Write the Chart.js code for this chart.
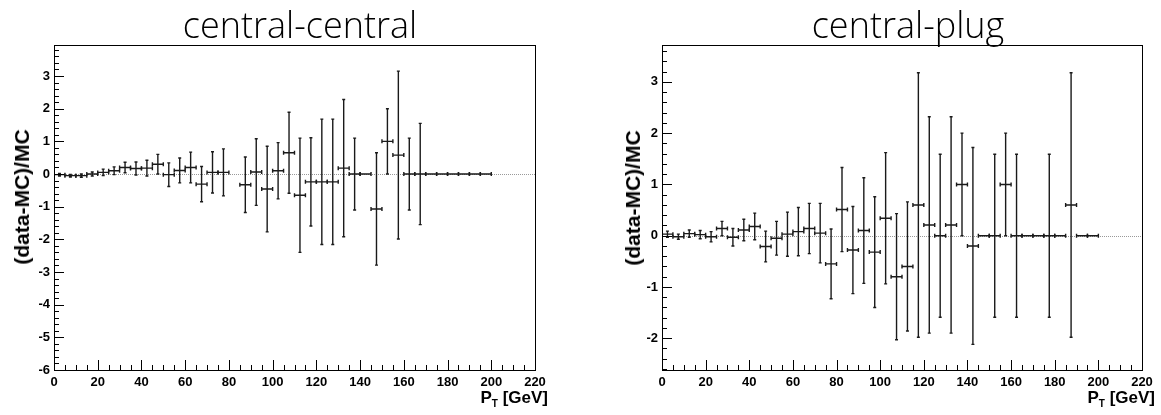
<!DOCTYPE html>
<html lang="en">
<head>
<meta charset="UTF-8">
<title>(data-MC)/MC vs PT</title>
<style>
  body { margin:0; background:#fff; width:1161px; height:415px; position:relative; overflow:hidden; }
  canvas { position:absolute; top:0; }
  .title { position:absolute; top:5px; font-family:"Open Sans", "DejaVu Sans", sans-serif; font-weight:300;
           font-size:36px; line-height:40px; transform:translateX(-50%); white-space:nowrap; color:#000; }
  .ytitle { position:absolute; font-family:"Liberation Sans", Arial, sans-serif; font-weight:bold; font-size:21px;
            transform:translate(-50%,-50%) rotate(-90deg); white-space:nowrap; color:#000; }
  .xtitle { position:absolute; top:388px; font-family:"Liberation Sans", Arial, sans-serif; font-weight:bold;
            font-size:17px; line-height:20px; transform:translateX(-100%); white-space:nowrap; color:#000; }
  .xtitle sub { font-size:10px; }
</style>
</head>
<body>
  <canvas id="ccChart" width="580" height="415" style="left:0"></canvas>
  <canvas id="cpChart" width="581" height="415" style="left:580px"></canvas>
  <div class="title" style="left:300px">central-central</div>
  <div class="title" style="left:908px">central-plug</div>
  <div class="ytitle" style="left:22px; top:197px">(data-MC)/MC</div>
  <div class="ytitle" style="left:633px; top:198px">(data-MC)/MC</div>
  <div class="xtitle" style="left:548px">P<sub>T</sub> [GeV]</div>
  <div class="xtitle" style="left:1155px">P<sub>T</sub> [GeV]</div>
  <script src="https://cdn.jsdelivr.net/npm/chart.js"></script>
<script>
  // bin centres (5 GeV bins)
  const ptBins = [2.5, 7.5, 12.5, 17.5, 22.5, 27.5, 32.5, 37.5, 42.5, 47.5,
                  52.5, 57.5, 62.5, 67.5, 72.5, 77.5, 82.5, 87.5, 92.5, 97.5,
                  102.5, 107.5, 112.5, 117.5, 122.5, 127.5, 132.5, 137.5, 142.5, 147.5,
                  152.5, 157.5, 162.5, 167.5, 172.5, 177.5, 182.5, 187.5, 192.5, 197.5];
  const binHalfWidth = 2.5;

  // central-central
  const ccValue = [-0.02, -0.05, -0.05, 0.0, 0.05, 0.1, 0.2, 0.17, 0.18, 0.3,
                   -0.02, 0.11, 0.2, -0.31, 0.05, 0.05, null, -0.33, 0.06, -0.46,
                   0.1, 0.65, -0.65, -0.24, -0.24, -0.24, 0.18, 0, 0, -1.07,
                   1.0, 0.58, 0, 0, 0, 0, 0, 0, 0, 0];
  const ccError = [0.04, 0.04, 0.05, 0.06, 0.1, 0.12, 0.16, 0.2, 0.24, 0.3,
                   0.36, 0.38, 0.47, 0.54, 0.63, 0.72, null, 0.85, 1.02, 1.31,
                   0.86, 1.24, 1.75, 1.35, 1.92, 1.92, 2.1, 1.1, 0, 1.72,
                   1.0, 2.57, 1.1, 1.55, 0, 0, 0, 0, 0, 0];

  // central-plug
  const cpValue = [0.03, -0.02, 0.04, 0.02, -0.02, 0.14, -0.03, 0.11, 0.18, -0.21,
                   -0.05, 0.03, 0.08, 0.14, 0.05, -0.55, 0.51, -0.28, 0.1, -0.32,
                   0.34, -0.8, -0.6, 0.6, 0.21, 0, 0.21, 1.0, -0.2, 0,
                   0, 1.0, 0, 0, 0, 0, 0, 0.6, 0, 0];
  const cpError = [0.06, 0.05, 0.07, 0.08, 0.1, 0.14, 0.17, 0.21, 0.26, 0.3,
                   0.33, 0.43, 0.47, 0.49, 0.58, 0.68, 0.82, 0.85, 1.03, 1.08,
                   1.28, 1.23, 1.26, 2.58, 2.11, 1.59, 2.11, 1.0, 1.92, 0,
                   1.59, 1.0, 1.59, 0, 0, 1.59, 0, 2.58, 0, 0];

  const xTicks = { min: 0, max: 220, major: 20, minor: 5 };
  const tickFont = { family: 'Liberation Sans', size: 13, weight: 'bold' };

  // ROOT-like frame, inward ticks, dotted zero line and error crosses
  const rootStyle = {
    id: 'rootStyle',
    beforeDatasetsDraw(chart) {
      const { ctx, chartArea: a, scales: { y } } = chart;
      const y0 = y.getPixelForValue(0);
      ctx.save();
      ctx.strokeStyle = '#999';
      ctx.lineWidth = 1;
      ctx.setLineDash([1, 1]);
      ctx.beginPath();
      ctx.moveTo(a.left, Math.round(y0) + 0.5);
      ctx.lineTo(a.right, Math.round(y0) + 0.5);
      ctx.stroke();
      ctx.restore();
    },
    afterDatasetsDraw(chart) {
      const { ctx, chartArea: a, scales: { x, y } } = chart;
      ctx.save();
      ctx.beginPath();
      ctx.rect(a.left, a.top, a.right - a.left, a.bottom - a.top);
      ctx.clip();
      ctx.strokeStyle = '#1a1a1a';
      ctx.lineWidth = 1.4;
      chart.data.datasets[0].data.forEach(p => {
        const px = x.getPixelForValue(p.x);
        const xl = x.getPixelForValue(p.x - binHalfWidth);
        const xr = x.getPixelForValue(p.x + binHalfWidth);
        const py = y.getPixelForValue(p.y);
        ctx.beginPath();
        ctx.moveTo(xl, py); ctx.lineTo(xr, py);
        ctx.moveTo(xl, py - 2); ctx.lineTo(xl, py + 2);
        ctx.moveTo(xr, py - 2); ctx.lineTo(xr, py + 2);
        if (p.e > 0) {
          const yt = y.getPixelForValue(p.y + p.e);
          const yb = y.getPixelForValue(p.y - p.e);
          ctx.moveTo(px, yt); ctx.lineTo(px, yb);
          ctx.moveTo(px - 1.5, yt); ctx.lineTo(px + 1.5, yt);
          ctx.moveTo(px - 1.5, yb); ctx.lineTo(px + 1.5, yb);
        }
        ctx.stroke();
      });
      ctx.restore();
    },
    afterDraw(chart) {
      const { ctx, chartArea: a, scales: { x, y } } = chart;
      ctx.save();
      ctx.strokeStyle = '#000';
      ctx.lineWidth = 1;
      ctx.strokeRect(Math.round(a.left) + 0.5, Math.round(a.top) + 0.5,
                     Math.round(a.right - a.left), Math.round(a.bottom - a.top));
      ctx.beginPath();
      for (let v = xTicks.min; v <= xTicks.max + 1e-9; v += xTicks.minor) {
        const px = Math.round(x.getPixelForValue(v)) + 0.5;
        const len = (v % xTicks.major === 0) ? 10 : 5;
        ctx.moveTo(px, a.bottom); ctx.lineTo(px, a.bottom - len);
      }
      const yMin = y.min, yMax = y.max;
      for (let k = Math.ceil(yMin / 0.2 - 1e-6); k * 0.2 <= yMax + 1e-9; k++) {
        const v = k * 0.2;
        const py = Math.round(y.getPixelForValue(v)) + 0.5;
        const len = (k % 5 === 0) ? 10 : 5;
        ctx.moveTo(a.left, py); ctx.lineTo(a.left + len, py);
      }
      ctx.stroke();
      ctx.restore();
    }
  };

  function makeChart(id, values, errors, yMin, yMax, axisWidth, rightPad) {
    const points = ptBins
      .map((pt, i) => ({ x: pt, y: values[i], e: errors[i] }))
      .filter(p => p.y !== null);
    return new Chart(document.getElementById(id), {
      type: 'scatter',
      data: { datasets: [{ data: points, pointRadius: 0, showLine: false }] },
      options: {
        responsive: false,
        animation: false,
        layout: { padding: { top: 45, right: rightPad, left: 0, bottom: 0 } },
        plugins: { legend: { display: false }, tooltip: { enabled: false } },
        scales: {
          x: {
            type: 'linear', min: xTicks.min, max: xTicks.max,
            grid: { display: false, drawTicks: false },
            border: { display: false },
            ticks: { stepSize: xTicks.major, padding: 5, color: '#000', font: tickFont,
                     maxRotation: 0, autoSkip: false },
            afterFit: s => { s.height = 45; }
          },
          y: {
            min: yMin, max: yMax,
            grid: { display: false, drawTicks: false },
            border: { display: false },
            ticks: { stepSize: 1, includeBounds: false, padding: 4, color: '#000', font: tickFont },
            afterFit: s => { s.width = axisWidth; }
          }
        }
      },
      plugins: [rootStyle]
    });
  }

  makeChart('ccChart', ccValue, ccError, -6, 3.95, 54, 45);
  makeChart('cpChart', cpValue, cpError, -2.62, 3.72, 82, 19);
</script>
</body>
</html>
